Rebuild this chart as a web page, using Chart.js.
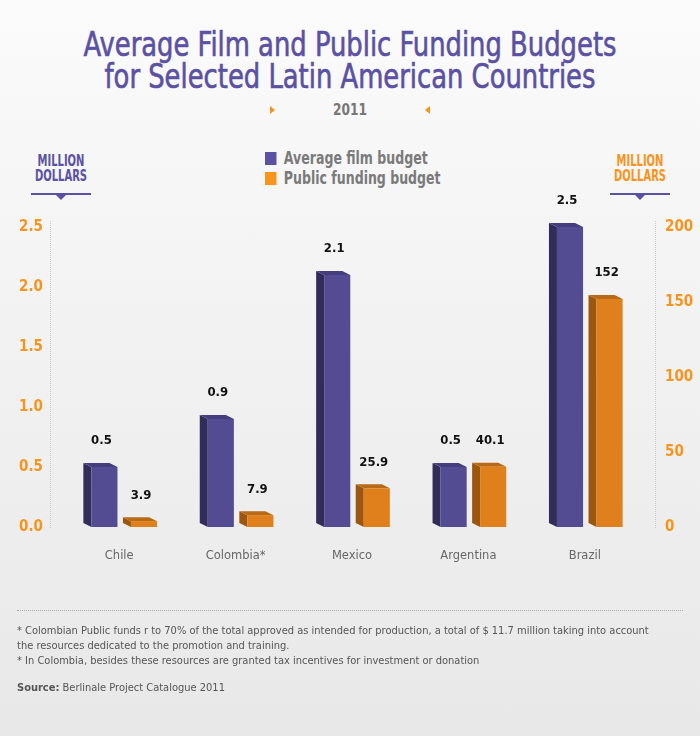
<!DOCTYPE html>
<html>
<head>
<meta charset="utf-8">
<script src="https://cdn.jsdelivr.net/npm/chart.js@4"></script>
<style>
  html, body { margin: 0; padding: 0; }
  body {
    width: 700px; height: 736px; position: relative; overflow: hidden;
    background: linear-gradient(#fbfbfb 0%, #f3f3f3 40%, #e8e8e8 100%);
    font-family: "DejaVu Sans", sans-serif;
  }
  .abs { position: absolute; }
  .cond { font-family: "DejaVu Sans Condensed", "Liberation Sans Narrow", sans-serif; font-stretch: condensed; }
  #title { left: 0; width: 700px; top: 29px; text-align: center; color: #5a51a3; font-size: 33px; line-height: 32px;
           transform: scaleX(0.87); -webkit-text-stroke: 0.6px #5a51a3; }
  #year { left: 0; width: 700px; top: 100px; text-align: center; color: #777; font-size: 16px; font-weight: bold; transform: scaleX(0.85); }
  .tri { width: 0; height: 0; border-top: 4px solid transparent; border-bottom: 4px solid transparent; }
  .legend { left: 265px; color: #7a7a7a; font-size: 17px; font-weight: bold; line-height: 20px; transform: scaleX(0.82); transform-origin: left center; }
  .legend span.box { display: inline-block; width: 14px; height: 13px; margin-right: 9px; vertical-align: -1px; }
  .unit { font-size: 15px; font-weight: bold; line-height: 15px; text-align: center; width: 80px; transform: scaleX(0.74); }
  .uline { height: 2px; background: #5a51a3; width: 60px; }
  .down { width: 0; height: 0; border-left: 5px solid transparent; border-right: 5px solid transparent; border-top: 5px solid #5a51a3; }
  #notes { left: 17px; top: 623px; width: 680px; color: #555; font-size: 11px; line-height: 15px; font-family: "DejaVu Sans Condensed", "Liberation Sans Narrow", sans-serif; }
  #rule { left: 17px; top: 610px; width: 666px; border-top: 1px dotted #aaa; }
  canvas { position: absolute; left: 0; top: 0; }
</style>
</head>
<body>
<div id="title" class="abs cond">Average Film and Public Funding Budgets<br>for Selected Latin American Countries</div>
<div id="year" class="abs cond">2011</div>
<div class="abs tri" style="left:270px; top:106px; border-left:5px solid #f7941d;"></div>
<div class="abs tri" style="left:425px; top:106px; border-right:5px solid #f7941d;"></div>

<div class="abs legend cond" style="top:148px;"><span class="box" style="background:#5a51a3"></span>Average film budget</div>
<div class="abs legend cond" style="top:168px;"><span class="box" style="background:#f7941d"></span>Public funding budget</div>

<div class="abs unit cond" style="left:21px; top:154px; color:#5a51a3;">MILLION<br>DOLLARS</div>
<div class="abs uline" style="left:31px; top:193px;"></div>
<div class="abs down" style="left:56px; top:195px;"></div>
<div class="abs unit cond" style="left:600px; top:154px; color:#f7941d;">MILLION<br>DOLLARS</div>
<div class="abs uline" style="left:610px; top:193px;"></div>
<div class="abs down" style="left:635px; top:195px;"></div>

<canvas id="chart" width="700" height="736"></canvas>

<div id="rule" class="abs"></div>
<div id="notes" class="abs">
* Colombian Public funds r to 70% of the total approved as intended for production, a total of $ 11.7 million taking into account<br>
the resources dedicated to the promotion and training.<br>
* In Colombia, besides these resources are granted tax incentives for investment or donation<br>
<div style="height:12px"></div>
<b>Source:</b> Berlinale Project Catalogue 2011
</div>

<script>
// chart data
const countries = ['Chile', 'Colombia*', 'Mexico', 'Argentina', 'Brazil'];
const filmBudget = [0.5, 0.9, 2.1, 0.5, 2.5];       // million dollars, left axis
const publicFunding = [3.9, 7.9, 25.9, 40.1, 152];  // million dollars, right axis
const leftTicks = [0, 0.5, 1.0, 1.5, 2.0, 2.5];
const rightTicks = [0, 50, 100, 150, 200];

const purple = { front: '#544c93', side: '#322c58', top: '#453e7e' };
const orange = { front: '#e0801c', side: '#9c560f', top: '#b96a16' };

// draws side + top faces so the bars look like blocks
const bars3d = {
    id: 'bars3d',
    beforeDatasetsDraw(chart) {
        const ctx = chart.ctx;
        const dx = 8, dy = 4;
        chart.getSortedVisibleDatasetMetas().forEach((meta, i) => {
            const col = i === 0 ? purple : orange;
            meta.data.forEach(bar => {
                const x0 = bar.x - bar.width / 2;
                const x1 = bar.x + bar.width / 2;
                const top = bar.y, bottom = bar.base;
                ctx.fillStyle = col.side;
                ctx.beginPath();
                ctx.moveTo(x0, top);
                ctx.lineTo(x0 - dx, top - dy);
                ctx.lineTo(x0 - dx, bottom - dy);
                ctx.lineTo(x0, bottom);
                ctx.closePath();
                ctx.fill();
                ctx.fillStyle = col.top;
                ctx.beginPath();
                ctx.moveTo(x0, top);
                ctx.lineTo(x1, top);
                ctx.lineTo(x1 - dx, top - dy);
                ctx.lineTo(x0 - dx, top - dy);
                ctx.closePath();
                ctx.fill();
            });
        });
    },
    afterDatasetsDraw(chart) {
        const ctx = chart.ctx;
        ctx.save();
        ctx.fillStyle = '#111';
        ctx.font = 'bold 13px "DejaVu Sans Condensed", sans-serif';
        ctx.textAlign = 'center';
        ctx.textBaseline = 'middle';
        chart.getSortedVisibleDatasetMetas().forEach(meta => {
            const ds = chart.data.datasets[meta.index];
            meta.data.forEach((bar, j) => {
                ctx.fillText(String(ds.data[j]), bar.x - 3, bar.y - 26);
            });
        });
        // dotted axis lines
        const a = chart.chartArea;
        ctx.strokeStyle = '#c8c8c8';
        ctx.lineWidth = 1;
        ctx.setLineDash([1, 1]);
        [a.left - 16, a.right + 7].forEach(x => {
            ctx.beginPath();
            ctx.moveTo(x + 0.5, a.top - 6);
            ctx.lineTo(x + 0.5, a.bottom + 1);
            ctx.stroke();
        });
        ctx.restore();
    }
};

const tickFont = { family: '"DejaVu Sans Condensed", sans-serif', size: 15, weight: 'bold' };

new Chart(document.getElementById('chart'), {
    type: 'bar',
    data: {
        labels: countries,
        datasets: [
            { label: 'Average film budget', data: filmBudget, backgroundColor: purple.front, yAxisID: 'y',
              categoryPercentage: 0.68, barPercentage: 0.66 },
            { label: 'Public funding budget', data: publicFunding, backgroundColor: orange.front, yAxisID: 'y1',
              categoryPercentage: 0.68, barPercentage: 0.66 }
        ]
    },
    options: {
        responsive: false,
        animation: false,
        layout: { padding: { top: 227, bottom: 159, left: 0, right: 0 } },
        plugins: { legend: { display: false }, tooltip: { enabled: false } },
        scales: {
            x: {
                grid: { display: false, drawTicks: false },
                border: { display: false },
                ticks: { color: '#666', padding: 22, labelOffset: -5, font: { family: '"DejaVu Sans", sans-serif', size: 11.5 } },
                afterFit(s) { s.height = 50; }
            },
            y: {
                position: 'left', min: 0, max: 2.5,
                afterBuildTicks(s) { s.ticks = leftTicks.map(v => ({ value: v })); },
                grid: { display: false, drawTicks: false },
                border: { display: false },
                ticks: { color: '#f7941d', padding: 23, font: tickFont, callback: v => v.toFixed(1) },
                afterFit(s) { s.width = 66; }
            },
            y1: {
                position: 'right', min: 0, max: 200,
                afterBuildTicks(s) { s.ticks = rightTicks.map(v => ({ value: v })); },
                grid: { display: false, drawTicks: false },
                border: { display: false },
                ticks: { color: '#f7941d', padding: 17, font: tickFont },
                afterFit(s) { s.width = 52; }
            }
        }
    },
    plugins: [bars3d]
});
</script>
</body>
</html>
